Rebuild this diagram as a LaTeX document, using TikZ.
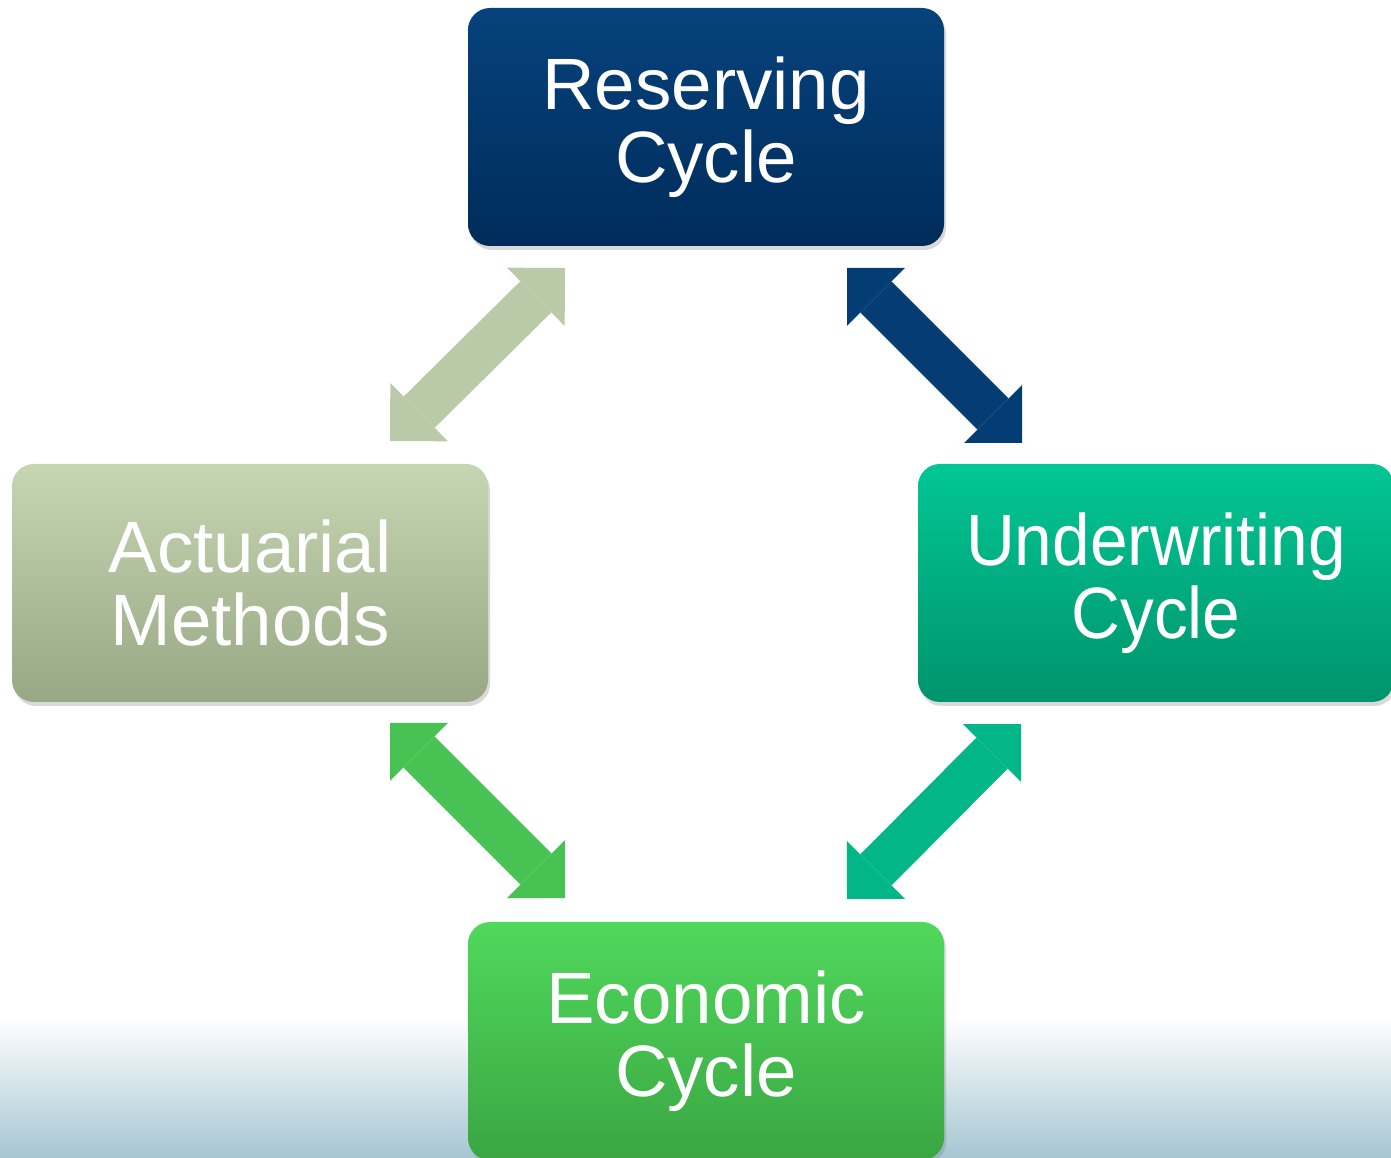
\documentclass[tikz,border=0pt]{standalone}
\usepackage{fontspec}
\setmainfont{Liberation Sans}
\newfontfamily\narrowsans[FakeStretch=0.93]{Liberation Sans}
\usetikzlibrary{arrows.meta,shadows,positioning}
\definecolor{navyTop}{RGB}{6,66,124}
\definecolor{navyBot}{RGB}{0,44,90}
\definecolor{sageTop}{RGB}{198,214,178}
\definecolor{sageBot}{RGB}{152,168,132}
\definecolor{tealTop}{RGB}{2,198,148}
\definecolor{tealBot}{RGB}{0,148,108}
\definecolor{greenTop}{RGB}{80,216,92}
\definecolor{greenBot}{RGB}{58,166,66}
\definecolor{floorBlue}{RGB}{166,198,210}
\tikzset{cyclebox/.style={
            rounded corners=0.22cm,
            minimum width=4.76cm,
            minimum height=2.38cm,
            inner sep=0pt,
            align=center,
            text=white,
            font=\fontsize{20.7}{20.8}\selectfont,
            drop shadow={opacity=0.3,shadow xshift=0.02cm,shadow yshift=-0.04cm}
        },
        navybox/.style={
            cyclebox,
            top color=navyTop,
            bottom color=navyBot
        },
        sagebox/.style={
            cyclebox,
            top color=sageTop,
            bottom color=sageBot
        },
        tealbox/.style={
            cyclebox,
            top color=tealTop,
            bottom color=tealBot,
            font=\narrowsans\fontsize{20.7}{20.8}\selectfont
        },
        greenbox/.style={
            cyclebox,
            top color=greenTop,
            bottom color=greenBot
        },
        biarrow/.style={
            line width=0.44cm,
            >={Triangle[length=0.41cm,width=0.82cm,line width=0pt]},
            <->
        }
    }
\begin{document}
\begin{tikzpicture}
        \useasboundingbox (0,0) rectangle (13.91,11.57);
        \fill[top color=white, bottom color=floorBlue] (0,0) rectangle (13.91,1.40);

        \node[navybox] at (7.06,10.30) (reserving) {Reserving\\Cycle};
        \node[sagebox] at (2.50,5.74) (actuarial) {Actuarial\\Methods};
        \node[tealbox] at (11.56,5.74) (underwriting) {Underwriting\\Cycle};
        \node[greenbox] at (7.06,1.16) (economic) {Economic\\Cycle};

        \coordinate (actNE) at (3.90,7.16);
        \coordinate (resSW) at (5.65,8.89);
        \coordinate (resSE) at (8.47,8.89);
        \coordinate (undNW) at (10.22,7.14);
        \coordinate (actSE) at (3.90,4.34);
        \coordinate (ecoNW) at (5.65,2.59);
        \coordinate (undSW) at (10.21,4.33);
        \coordinate (ecoNE) at (8.47,2.58);

        \draw[biarrow, draw=sageTop!94!black, fill=sageTop!94!black] (actNE) -- (resSW);
        \draw[biarrow, draw=navyTop!75!navyBot, fill=navyTop!75!navyBot] (resSE) -- (undNW);
        \draw[biarrow, draw=greenTop!90!black, fill=greenTop!90!black] (actSE) -- (ecoNW);
        \draw[biarrow, draw=tealTop!92!black, fill=tealTop!92!black] (undSW) -- (ecoNE);
    \end{tikzpicture}
\end{document}
